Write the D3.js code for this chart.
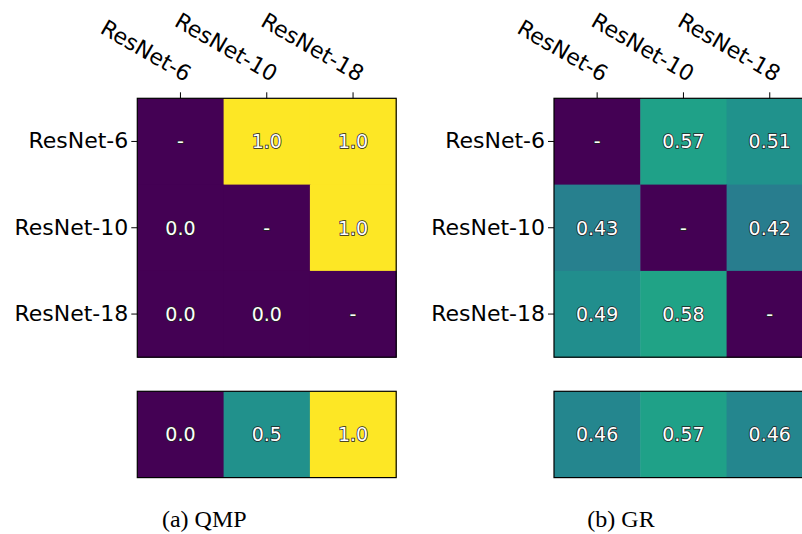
<!DOCTYPE html>
<html lang="en">
<head>
  <meta charset="UTF-8">
  <script src="https://d3js.org/d3.v7.min.js"></script>
  <title>QMP vs GR</title>
  <style>
    body { margin: 0; background: #fff; }
  </style>
</head>
<body>
  <script>
    const models = ["ResNet-6", "ResNet-10", "ResNet-18"]
    // null = diagonal, drawn as "-"
    const qmpPairs = [[null, 1.0, 1.0], [0.0, null, 1.0], [0.0, 0.0, null]]
    const qmpMean = [0.0, 0.5, 1.0]
    const grPairs = [[null, 0.57, 0.51], [0.43, null, 0.42], [0.49, 0.58, null]]
    const grMean = [0.46, 0.57, 0.46]
    const captions = ["(a) QMP", "(b) GR"]

    const dimensions = { width: 802, height: 534, cell: 86.3, top: 98.3, meanTop: 391.3 }

    const svg = d3.select("body").append("svg")
        .attr("width", dimensions.width)
        .attr("height", dimensions.height)

    const color = v => v == null ? d3.interpolateViridis(0) : d3.interpolateViridis(v)

    function drawPanel(left, pairs, mean, caption, fmt) {
      const size = dimensions.cell * 3
      const x = d3.scaleBand().domain(models).range([0, size])
      const y = d3.scaleBand().domain(models).range([0, size])

      const g = svg.append("g").attr("transform", `translate(${left},${dimensions.top})`)
      const cells = pairs.flatMap((row, i) => row.map((v, j) => ({ r: models[i], c: models[j], v })))

      g.selectAll("rect.cell").data(cells).join("rect")
          .attr("class", "cell")
          .attr("x", d => x(d.c)).attr("y", d => y(d.r))
          .attr("width", x.bandwidth() + 0.5).attr("height", y.bandwidth() + 0.5)
          .attr("fill", d => color(d.v))

      g.selectAll("text.val").data(cells).join("text")
          .attr("class", "val")
          .attr("x", d => x(d.c) + x.bandwidth() / 2)
          .attr("y", d => y(d.r) + y.bandwidth() / 2)
          .attr("dy", "0.36em")
          .text(d => d.v == null ? "-" : fmt(d.v))
          .call(valueStyle)

      g.append("rect").attr("width", size).attr("height", size)
          .attr("fill", "none").attr("stroke", "#000").attr("stroke-width", 1.2)

      // top axis with rotated labels
      const xAxis = g.append("g").call(d3.axisTop(x).tickSize(6).tickSizeOuter(0))
      xAxis.select(".domain").remove()
      xAxis.selectAll("text")
          .attr("font-family", "DejaVu Sans").attr("font-size", 22).attr("fill", "#000")
          .attr("text-anchor", "end")
          .attr("transform", "translate(5,-16) rotate(30)")
          .attr("dy", "0")
          .attr("y", 0).attr("x", 0)

      const yAxis = g.append("g").call(d3.axisLeft(y).tickSize(6).tickSizeOuter(0))
      yAxis.select(".domain").remove()
      yAxis.selectAll("text")
          .attr("font-family", "DejaVu Sans").attr("font-size", 22).attr("fill", "#000")
          .attr("x", -9)

      // mean row
      const m = svg.append("g").attr("transform", `translate(${left},${dimensions.meanTop})`)
      m.selectAll("rect").data(mean).join("rect")
          .attr("x", (d, i) => x(models[i])).attr("y", 0)
          .attr("width", x.bandwidth() + 0.5).attr("height", dimensions.cell)
          .attr("fill", d => color(d))
      m.selectAll("text").data(mean).join("text")
          .attr("x", (d, i) => x(models[i]) + x.bandwidth() / 2)
          .attr("y", dimensions.cell / 2)
          .attr("dy", "0.36em")
          .text(d => fmt(d))
          .call(valueStyle)
      m.append("rect").attr("width", size).attr("height", dimensions.cell)
          .attr("fill", "none").attr("stroke", "#000").attr("stroke-width", 1.2)

      svg.append("text")
          .attr("x", left + 67).attr("y", 527)
          .attr("text-anchor", "middle")
          .attr("font-family", "Liberation Serif, DejaVu Serif, serif")
          .attr("font-size", 24)
          .text(caption)
    }

    function valueStyle(sel) {
      sel.attr("text-anchor", "middle")
          .attr("font-family", "DejaVu Sans").attr("font-size", 19)
          .attr("fill", "#fff")
          .attr("stroke", "#222").attr("stroke-width", 1.5)
          .attr("paint-order", "stroke")
    }

    drawPanel(137.3, qmpPairs, qmpMean, captions[0], d3.format(".1f"))
    drawPanel(554, grPairs, grMean, captions[1], d3.format(".2f"))
  </script>
</body>
</html>
